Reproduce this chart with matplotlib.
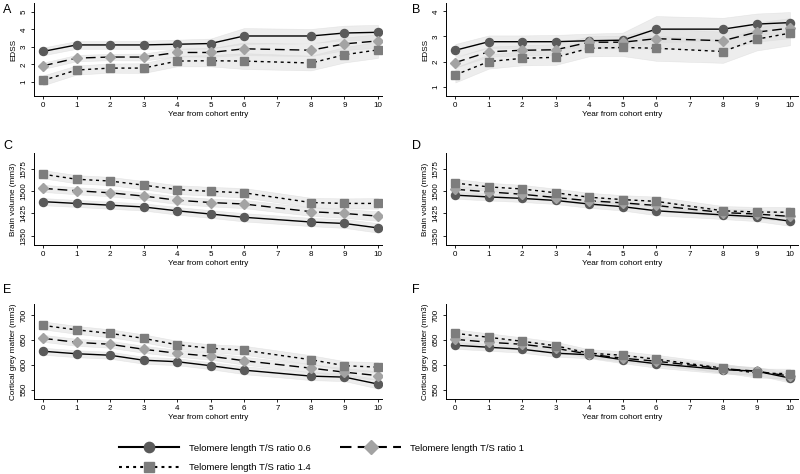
import matplotlib
matplotlib.use("Agg")
import matplotlib.pyplot as plt
from matplotlib.lines import Line2D
import numpy as np

plt.rcParams['font.family'] = ['Liberation Sans', 'DejaVu Sans']

years = [0, 1, 2, 3, 4, 5, 6, 8, 9, 10]
xticks = [0, 1, 2, 3, 4, 5, 6, 7, 8, 9, 10]
series_labels = ["Telomere length T/S ratio 0.6", "Telomere length T/S ratio 1",
                 "Telomere length T/S ratio 1.4"]

# Panel A: EDSS
A_06 = [2.74, 3.11, 3.11, 3.11, 3.15, 3.19, 3.62, 3.62, 3.79, 3.83]
A_10 = [1.92, 2.36, 2.42, 2.42, 2.68, 2.68, 2.89, 2.81, 3.17, 3.34]
A_14 = [1.09, 1.68, 1.79, 1.79, 2.19, 2.21, 2.19, 2.08, 2.55, 2.83]
A_ci06 = [0.22, 0.22, 0.22, 0.24, 0.26, 0.28, 0.45, 0.40, 0.42, 0.42]
A_ci10 = [0.18, 0.18, 0.18, 0.20, 0.22, 0.24, 0.36, 0.34, 0.36, 0.38]
A_ci14 = [0.28, 0.26, 0.26, 0.28, 0.30, 0.32, 0.45, 0.42, 0.44, 0.46]

# Panel B: EDSS
B_06 = [2.45, 2.79, 2.79, 2.79, 2.83, 2.85, 3.29, 3.29, 3.49, 3.55]
B_10 = [1.96, 2.39, 2.45, 2.47, 2.77, 2.77, 2.91, 2.83, 3.17, 3.33]
B_14 = [1.47, 2.00, 2.13, 2.17, 2.53, 2.56, 2.53, 2.40, 2.89, 3.13]
B_ci06 = [0.25, 0.25, 0.25, 0.27, 0.28, 0.30, 0.52, 0.45, 0.42, 0.42]
B_ci10 = [0.20, 0.20, 0.20, 0.22, 0.24, 0.26, 0.40, 0.36, 0.38, 0.40]
B_ci14 = [0.30, 0.28, 0.28, 0.30, 0.32, 0.34, 0.50, 0.45, 0.45, 0.48]

# Panel C: Brain volume
C_06 = [1465, 1459, 1453, 1447, 1434, 1423, 1412, 1396, 1391, 1376]
C_10 = [1510, 1502, 1495, 1484, 1470, 1462, 1457, 1431, 1425, 1416]
C_14 = [1558, 1541, 1535, 1521, 1506, 1500, 1495, 1462, 1459, 1459]
C_ci06 = [12, 12, 12, 12, 13, 13, 14, 14, 15, 16]
C_ci10 = [12, 12, 12, 12, 13, 13, 14, 14, 15, 16]
C_ci14 = [14, 14, 14, 14, 15, 15, 16, 16, 17, 18]

# Panel D: Brain volume
D_06 = [1487, 1481, 1476, 1469, 1457, 1448, 1434, 1420, 1414, 1399]
D_10 = [1507, 1498, 1490, 1479, 1468, 1461, 1452, 1428, 1423, 1415]
D_14 = [1528, 1515, 1508, 1495, 1480, 1472, 1466, 1434, 1430, 1429]
D_ci06 = [12, 12, 12, 12, 13, 13, 15, 14, 15, 16]
D_ci10 = [12, 12, 12, 12, 13, 13, 14, 14, 15, 16]
D_ci14 = [14, 14, 14, 14, 15, 15, 16, 16, 17, 18]

# Panel E: Cortical grey matter
E_06 = [627, 622, 619, 609, 606, 598, 589, 577, 575, 561]
E_10 = [653, 645, 641, 631, 623, 617, 608, 593, 585, 578]
E_14 = [679, 670, 663, 653, 640, 633, 629, 610, 598, 595]
E_ci06 = [7, 7, 7, 7, 7, 7, 8, 8, 8, 9]
E_ci10 = [7, 7, 7, 7, 7, 7, 8, 8, 8, 9]
E_ci14 = [8, 8, 8, 8, 8, 8, 9, 9, 9, 10]

# Panel F: Cortical grey matter
F_06 = [639, 635, 631, 623, 620, 610, 602, 590, 587, 573]
F_10 = [651, 645, 641, 633, 621, 613, 607, 592, 587, 577]
F_14 = [663, 655, 647, 638, 623, 619, 611, 593, 583, 582]
F_ci06 = [7, 7, 7, 7, 7, 7, 8, 8, 8, 9]
F_ci10 = [7, 7, 7, 7, 7, 7, 8, 8, 8, 9]
F_ci14 = [8, 8, 8, 8, 8, 8, 9, 9, 9, 10]

W, H = 800, 474
fig = plt.figure(figsize=(W / 100, H / 100), dpi=100)

def px_axes(left, right, top, bottom):
    return fig.add_axes([left / W, 1 - bottom / H, (right - left) / W, (bottom - top) / H])

styles = [
    dict(marker='o', mfc='#5a5a5a', ms=5.8, dashes=None),
    dict(marker='D', mfc='#a3a3a3', ms=5.6, dashes=(7, 3.5)),
    dict(marker='s', mfc='#7d7d7d', ms=5.8, dashes=(2.2, 2.6)),
]

panels = [
    ("A", (34, 382, 3, 96), (-0.27, 10.12), (0.2, 5.5), [1, 2, 3, 4, 5], "EDSS",
     [(A_06, A_ci06), (A_10, A_ci10), (A_14, A_ci14)]),
    ("B", (446, 798, 3, 96), (-0.28, 10.24), (0.63, 4.33), [1, 2, 3, 4], "EDSS",
     [(B_06, B_ci06), (B_10, B_ci10), (B_14, B_ci14)]),
    ("C", (34, 382, 153, 245), (-0.27, 10.12), (1318, 1630), [1350, 1425, 1500, 1575],
     "Brain volume (mm3)", [(C_06, C_ci06), (C_10, C_ci10), (C_14, C_ci14)]),
    ("D", (446, 798, 153, 245), (-0.28, 10.24), (1318, 1630), [1350, 1425, 1500, 1575],
     "Brain volume (mm3)", [(D_06, D_ci06), (D_10, D_ci10), (D_14, D_ci14)]),
    ("E", (34, 382, 304, 399), (-0.27, 10.12), (531, 722), [550, 600, 650, 700],
     "Cortical grey matter (mm3)", [(E_06, E_ci06), (E_10, E_ci10), (E_14, E_ci14)]),
    ("F", (446, 798, 304, 399), (-0.28, 10.24), (531, 722), [550, 600, 650, 700],
     "Cortical grey matter (mm3)", [(F_06, F_ci06), (F_10, F_ci10), (F_14, F_ci14)]),
]

letter_pos = {"A": (3, 10), "B": (412, 10), "C": (3, 146), "D": (412, 146),
              "E": (3, 290), "F": (412, 290)}

x = np.array(years)
for letter, box, xl, yl, yt, ylab, data in panels:
    ax = px_axes(*box)
    for (vals, ci) in data:
        v = np.array(vals, float); c = np.array(ci, float)
        ax.fill_between(x, v - c, v + c, facecolor='#dcdcdc', alpha=0.5,
                        edgecolor='#d4d4d4', linewidth=0.4, zorder=1)
    for (vals, ci), st in zip(data, styles):
        kw = dict(color='black', lw=1.0, marker=st['marker'], ms=st['ms'],
                  mfc=st['mfc'], mec=st['mfc'], zorder=3)
        line, = ax.plot(x, vals, ls='-', **kw)
        if st['dashes'] is not None:
            line.set_dashes(st['dashes'])
    ax.set_xlim(*xl)
    ax.set_ylim(*yl)
    ax.set_xticks(xticks)
    ax.set_yticks(yt)
    ax.set_yticklabels([str(t) for t in yt], rotation=90, va='center')
    ax.tick_params(axis='both', labelsize=5.8, length=2.5, width=0.6, pad=2, colors='black')
    for s in ['top', 'right']:
        ax.spines[s].set_visible(False)
    for s in ['left', 'bottom']:
        ax.spines[s].set_linewidth(0.7)
    ax.set_xlabel("Year from cohort entry", fontsize=5.9, labelpad=1.5)
    ax.set_ylabel(ylab, fontsize=5.9, labelpad=2.5)
    lx, ly = letter_pos[letter]
    fig.text(lx / W, 1 - ly / H, letter, fontsize=9, va='center', ha='left')

handles = []
for st, lab in zip(styles, series_labels):
    h = Line2D([0], [0], color='black', lw=1.5, marker=st['marker'], ms=st['ms'] + 1.6,
               mfc=st['mfc'], mec=st['mfc'], ls='-')
    if st['dashes'] is not None:
        h.set_dashes((5.5, 3.0) if st['marker'] == 'D' else (1.4, 2.0))
    handles.append(h)

order = [0, 2, 1]
leg = fig.legend([handles[i] for i in order], [series_labels[i] for i in order],
                 ncol=2, loc='upper left', bbox_to_anchor=(112 / W, 1 - 437 / H),
                 frameon=False, fontsize=6.8, handlelength=6.4, handletextpad=1.0,
                 columnspacing=3.2, labelspacing=1.1, numpoints=1, borderpad=0.2)

fig.savefig("out.png", dpi=100)
